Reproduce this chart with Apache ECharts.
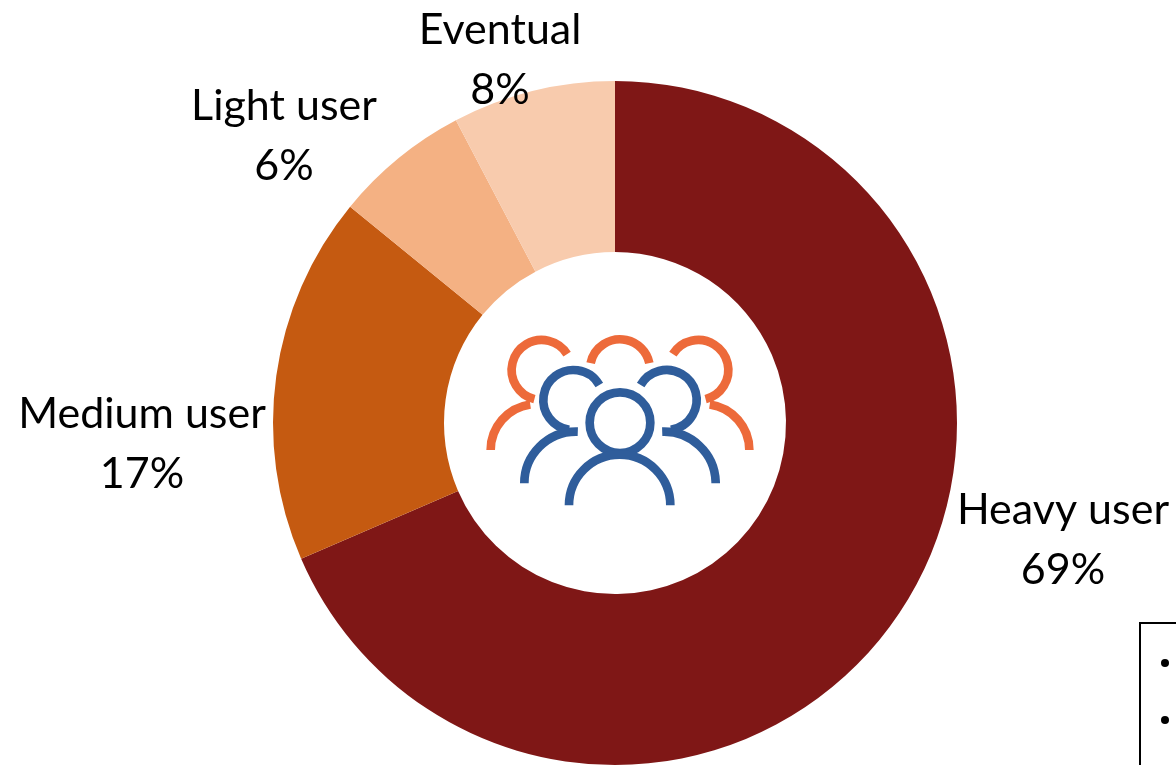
<!DOCTYPE html>
<html style="height: 100%">
<head>
	<meta charset="utf-8">
	<script src="https://cdn.jsdelivr.net/npm/echarts@6/dist/echarts.min.js"></script>
	<style>
		body { margin: 0; height: 100%; background: #fff; }
		#chart { width: 1176px; height: 765px; }
	</style>
</head>
<body>
	<div id="chart"></div>
	<script>
		var categories = ['Heavy user', 'Medium user', 'Light user', 'Eventual'];
		var shares = [68.5, 17.4, 6.4, 7.7];
		var colors = ['#7F1716', '#C55A11', '#F4B183', '#F8CBAD'];
		// label centres
		var labelCentres = [[1063, 540], [142, 444], [284, 136], [500, 60]];

		var orange = '#ED6A3A';
		var blue = '#2F5D9B';

		function arc(cx, cy, r, from, to, color) {
			return {
				type: 'arc',
				shape: { cx: cx, cy: cy, r: r, startAngle: from * Math.PI / 180, endAngle: to * Math.PI / 180, clockwise: true },
				style: { fill: null, stroke: color, lineWidth: 26, lineCap: 'butt' },
				silent: true
			};
		}

		// people icon, drawn in a 3x box and scaled down
		var icon = [
			arc(450, 148, 90, 192, 348, orange),
			arc(215, 150, 90, 104, 328, orange),
			arc(685, 150, 90, 212, 76, orange),
			arc(200, 390, 138, 180, 262, orange),
			arc(700, 390, 138, 278, 360, orange),
			arc(310, 240, 90, 98, 330, blue),
			arc(590, 240, 90, 210, 82, blue),
			arc(318, 490, 155, 180, 272, blue),
			arc(582, 490, 155, 268, 360, blue),
			arc(450, 308, 91, 0, 360, blue),
			arc(449, 556, 152, 180, 360, blue)
		];

		var myChart = echarts.init(document.getElementById('chart'));
		myChart.setOption({
			animation: false,
			backgroundColor: '#fff',
			graphic: [
				{ type: 'group', x: 470, y: 320, scaleX: 1 / 3, scaleY: 1 / 3, children: icon },
				{
					type: 'rect',
					shape: { x: 1140, y: 623, width: 60, height: 170 },
					style: { fill: '#fff', stroke: '#000', lineWidth: 2 }
				},
				{ type: 'circle', shape: { cx: 1165, cy: 663, r: 4 }, style: { fill: '#000' } },
				{ type: 'circle', shape: { cx: 1165, cy: 720, r: 4 }, style: { fill: '#000' } }
			],
			series: [{
				type: 'pie',
				center: [615, 423],
				radius: [171, 342],
				startAngle: 90,
				clockwise: true,
				percentPrecision: 0,
				avoidLabelOverlap: false,
				silent: true,
				data: categories.map(function(name, i) {
					return { name: name, value: shares[i], itemStyle: { color: colors[i] } };
				}),
				label: {
					show: true,
					position: 'outside',
					formatter: '{b}\n{d}%',
					fontFamily: 'Lato',
					fontSize: 43,
					lineHeight: 60,
					color: '#000',
					align: 'center',
					verticalAlign: 'middle'
				},
				labelLine: { show: false },
				labelLayout: function(params) {
					return {
						x: labelCentres[params.dataIndex][0],
						y: labelCentres[params.dataIndex][1],
						align: 'center',
						verticalAlign: 'middle'
					};
				}
			}]
		});
	</script>
</body>
</html>
